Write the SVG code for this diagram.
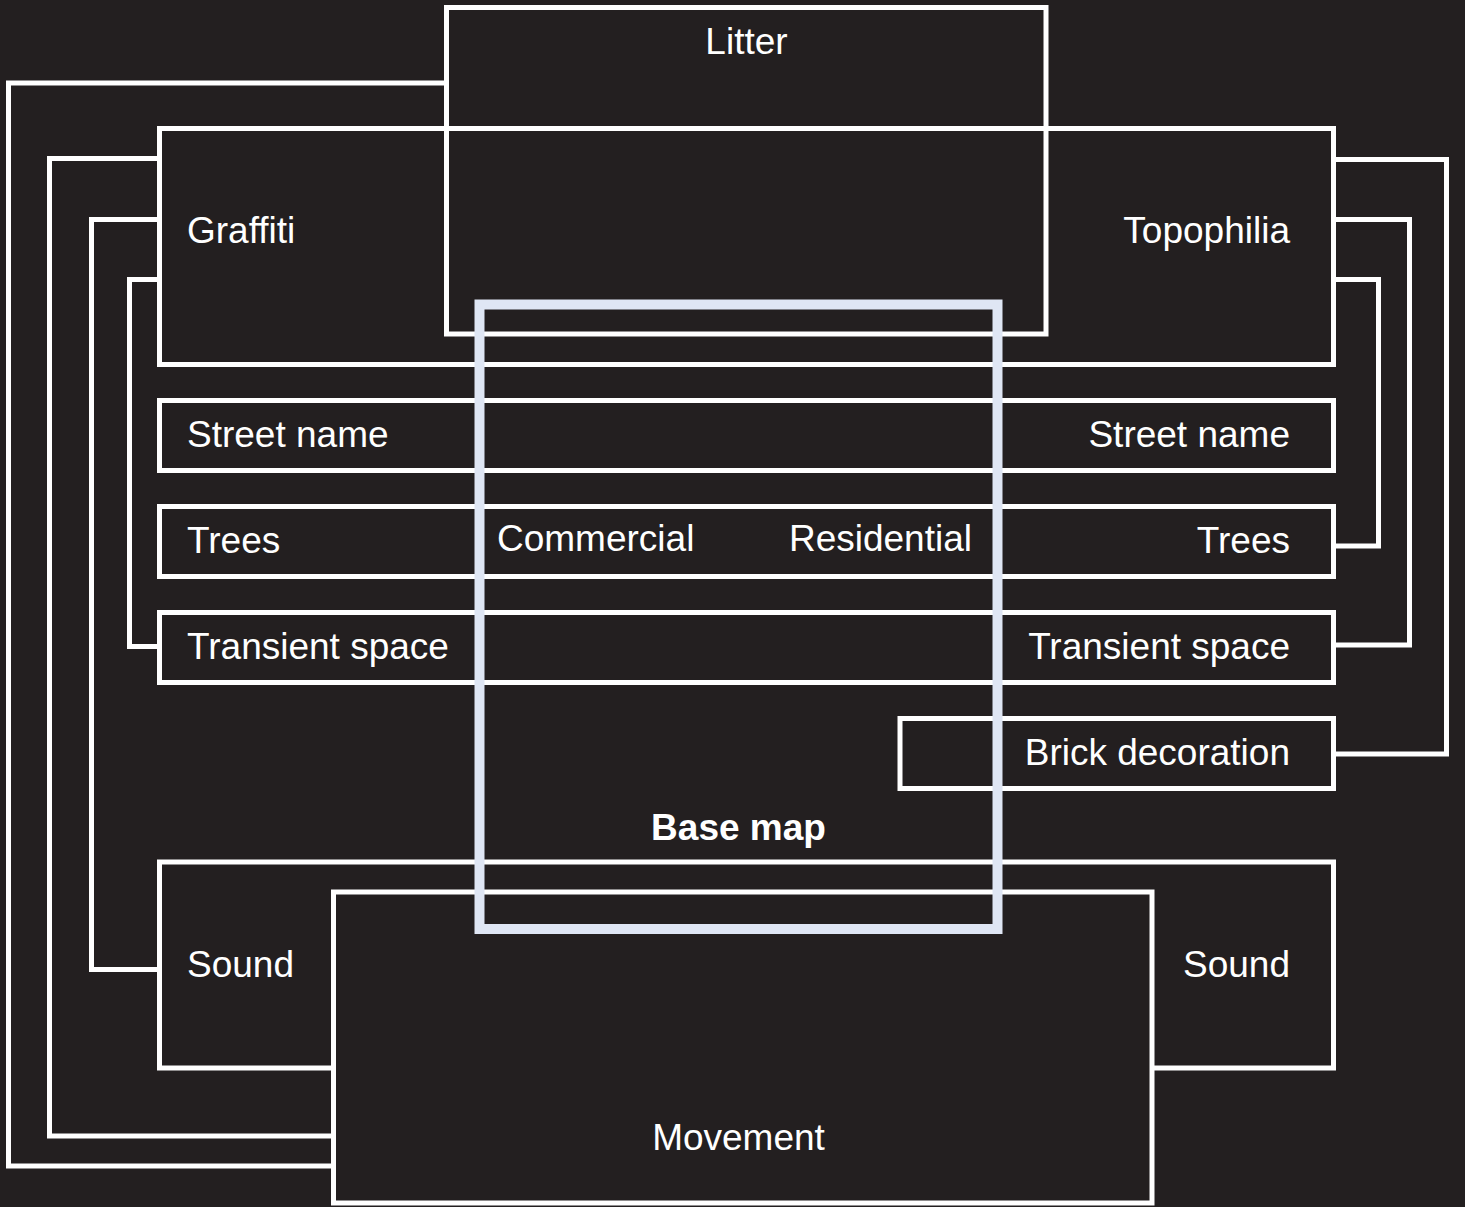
<svg xmlns="http://www.w3.org/2000/svg" width="1465" height="1207" viewBox="0 0 1465 1207">
<style>
.box{fill:none;stroke:#ffffff;stroke-width:5}
.fillbox{fill:#231f20;stroke:#ffffff;stroke-width:5}
.base{fill:none;stroke:#dfe6f4;stroke-width:10}
.con{fill:none;stroke:#ffffff;stroke-width:5;stroke-linejoin:miter}
.t{font-family:"Liberation Sans",Arial,Helvetica,sans-serif;font-size:37px;fill:#ffffff}
.b{font-weight:bold}
.m{text-anchor:middle}
.e{text-anchor:end}
</style>
<rect width="1465" height="1207" fill="#231f20"/>
<g id="graffiti-topophilia">
<rect class="box" x="159.5" y="128.5" width="1174" height="236"/>
<text class="t" x="187" y="243">Graffiti</text>
<text class="t e" x="1290" y="243">Topophilia</text>
</g>
<g id="street-name">
<rect class="box" x="159.5" y="400.5" width="1174" height="70"/>
<text class="t" x="187" y="447">Street name</text>
<text class="t e" x="1290" y="447">Street name</text>
</g>
<g id="trees">
<rect class="box" x="159.5" y="506.5" width="1174" height="70"/>
<text class="t" x="187" y="553">Trees</text>
<text class="t e" x="1290" y="553">Trees</text>
</g>
<g id="transient-space">
<rect class="box" x="159.5" y="612.5" width="1174" height="70"/>
<text class="t" x="187" y="659">Transient space</text>
<text class="t e" x="1290" y="659">Transient space</text>
</g>
<g id="brick-decoration">
<rect class="box" x="900" y="718.5" width="433.5" height="70"/>
<text class="t e" x="1290" y="765">Brick decoration</text>
</g>
<g id="sound">
<rect class="box" x="159.5" y="862" width="1174" height="206"/>
<text class="t" x="187" y="977">Sound</text>
<text class="t e" x="1290" y="977">Sound</text>
</g>
<g id="litter">
<rect class="box" x="446.5" y="7.5" width="599.5" height="326.5"/>
<text class="t m" x="746.5" y="54">Litter</text>
</g>
<g id="connectors">
<path class="con" d="M446.5,83 H8.5 V1166 H333"/>
<path class="con" d="M159.5,158.5 H49.5 V1136 H333"/>
<path class="con" d="M159.5,219.5 H91.5 V969.5 H159.5"/>
<path class="con" d="M159.5,279.5 H129.5 V646.5 H159.5"/>
<path class="con" d="M1333.5,159.5 H1446.5 V754 H1333.5"/>
<path class="con" d="M1333.5,219.5 H1409.5 V645 H1333.5"/>
<path class="con" d="M1333.5,279.5 H1378.5 V546 H1333.5"/>
</g>
<g id="movement">
<rect class="fillbox" x="333.5" y="892" width="818.5" height="311"/>
<text class="t m" x="738.5" y="1150">Movement</text>
</g>
<g id="base-map">
<rect class="base" x="479.5" y="304.5" width="518" height="624.5"/>
<text class="t" x="497" y="551">Commercial</text>
<text class="t e" x="972" y="551">Residential</text>
<text class="t b m" x="738.5" y="840">Base map</text>
</g>
</svg>
